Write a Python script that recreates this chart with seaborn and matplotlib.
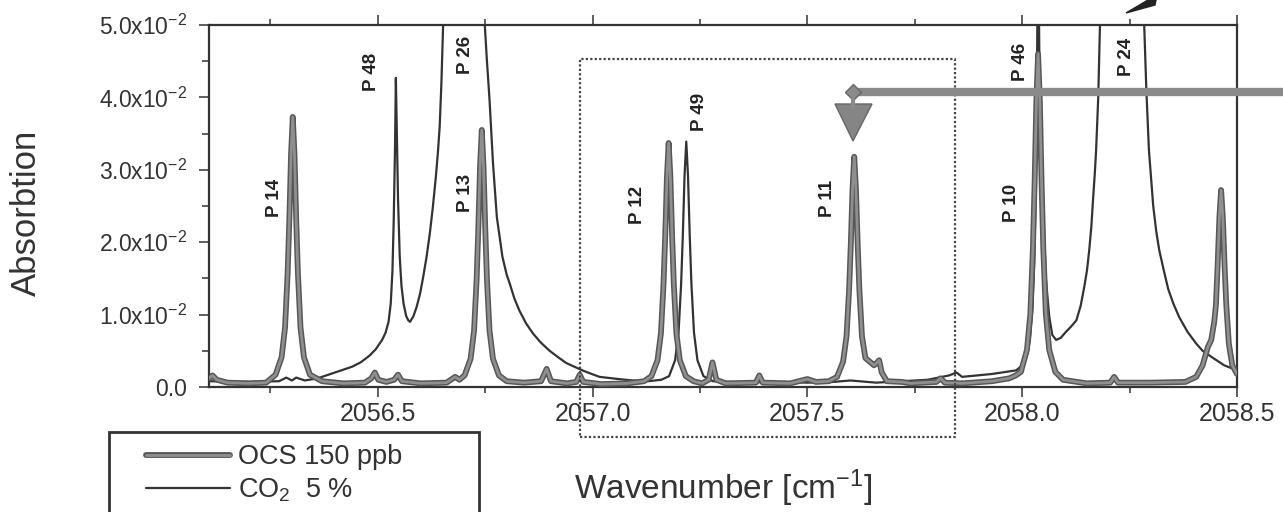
import matplotlib
matplotlib.use("Agg")
import numpy as np
import pandas as pd
import matplotlib.pyplot as plt
import seaborn as sns
import matplotlib.patheffects as pe
from matplotlib.patches import Rectangle, Polygon
from matplotlib.lines import Line2D
from matplotlib.ticker import FixedLocator, MultipleLocator, FixedFormatter

# ---------------- data ----------------
ocs_x = [2056.107, 2056.115, 2056.125, 2056.15, 2056.20, 2056.24,
         2056.262, 2056.276, 2056.284, 2056.290, 2056.294, 2056.298, 2056.302,
         2056.306, 2056.310, 2056.314, 2056.320, 2056.328, 2056.342, 2056.37,
         2056.42, 2056.47, 2056.485, 2056.493, 2056.501, 2056.52, 2056.538, 2056.547, 2056.556,
         2056.60, 2056.66, 2056.680, 2056.690,
         2056.702, 2056.716, 2056.724, 2056.730, 2056.734, 2056.738, 2056.742,
         2056.746, 2056.750, 2056.754, 2056.760, 2056.768, 2056.782, 2056.80,
         2056.84, 2056.88, 2056.893, 2056.903, 2056.94, 2056.962, 2056.970, 2056.978,
         2057.02, 2057.08, 2057.12,
         2057.137, 2057.151, 2057.159, 2057.165, 2057.169, 2057.173, 2057.177,
         2057.181, 2057.185, 2057.189, 2057.195, 2057.203, 2057.217, 2057.235,
         2057.255, 2057.27, 2057.279, 2057.288, 2057.31, 2057.38, 2057.388, 2057.396,
         2057.46, 2057.50, 2057.52, 2057.55,
         2057.569, 2057.583, 2057.591, 2057.597, 2057.601, 2057.605, 2057.609,
         2057.613, 2057.617, 2057.621, 2057.627, 2057.635, 2057.645, 2057.655, 2057.661,
         2057.667, 2057.673, 2057.685, 2057.72, 2057.74, 2057.80, 2057.81, 2057.82,
         2057.86, 2057.93, 2057.97, 2057.985,
         2057.997, 2058.011, 2058.019, 2058.025, 2058.029, 2058.033, 2058.037,
         2058.041, 2058.045, 2058.049, 2058.055, 2058.063, 2058.077, 2058.095,
         2058.15, 2058.205, 2058.214, 2058.223, 2058.30, 2058.38,
         2058.405, 2058.420, 2058.432, 2058.440, 2058.447, 2058.451, 2058.455, 2058.459,
         2058.463, 2058.467, 2058.471, 2058.475, 2058.481, 2058.489, 2058.500]
ocs_y = [0.0012, 0.0016, 0.0010, 0.0006, 0.0005, 0.0006,
         0.0017, 0.0041, 0.0082, 0.0157, 0.0231, 0.0321, 0.0373,
         0.0321, 0.0231, 0.0157, 0.0082, 0.0041, 0.0017, 0.0008,
         0.0005, 0.0006, 0.0012, 0.0020, 0.0010, 0.0007, 0.0010, 0.0017, 0.0008,
         0.0005, 0.0006, 0.0014, 0.0010,
         0.0016, 0.0039, 0.0078, 0.0149, 0.0220, 0.0305, 0.0355,
         0.0305, 0.0220, 0.0149, 0.0078, 0.0039, 0.0016, 0.0008,
         0.0006, 0.0008, 0.0025, 0.0008, 0.0005, 0.0007, 0.0017, 0.0007,
         0.0004, 0.0005, 0.0008,
         0.0015, 0.0037, 0.0074, 0.0142, 0.0209, 0.0290, 0.0337,
         0.0290, 0.0209, 0.0142, 0.0074, 0.0037, 0.0015, 0.0008,
         0.0005, 0.0010, 0.0034, 0.0010, 0.0005, 0.0006, 0.0016, 0.0006,
         0.0005, 0.0011, 0.0007, 0.0008,
         0.0014, 0.0035, 0.0070, 0.0134, 0.0197, 0.0273, 0.0318,
         0.0273, 0.0197, 0.0134, 0.0070, 0.0040, 0.0035, 0.0030, 0.0033,
         0.0037, 0.0020, 0.0008, 0.0007, 0.0005, 0.0007, 0.0012, 0.0006,
         0.0005, 0.0008, 0.0012, 0.0016,
         0.0021, 0.0051, 0.0101, 0.0193, 0.0285, 0.0396, 0.0460,
         0.0396, 0.0285, 0.0193, 0.0101, 0.0051, 0.0021, 0.0010,
         0.0005, 0.0006, 0.0014, 0.0006, 0.0006, 0.0007,
         0.0014, 0.0030, 0.0055, 0.0065, 0.0090, 0.0114, 0.0169, 0.0234,
         0.0272, 0.0234, 0.0169, 0.0114, 0.0060, 0.0030, 0.0018]

co2_x = [2056.107, 2056.20, 2056.27, 2056.287, 2056.30, 2056.31, 2056.33, 2056.36, 2056.40,
         2056.44, 2056.46, 2056.48, 2056.495, 2056.51, 2056.518, 2056.525, 2056.530, 2056.534,
         2056.537, 2056.540, 2056.542, 2056.544, 2056.547, 2056.551, 2056.555, 2056.560,
         2056.566, 2056.571, 2056.575, 2056.583, 2056.590, 2056.598, 2056.605, 2056.613,
         2056.621, 2056.628, 2056.635, 2056.640, 2056.644, 2056.648, 2056.652, 2056.656,
         2056.665, 2056.680, 2056.700, 2056.720, 2056.737, 2056.745, 2056.749, 2056.754,
         2056.760, 2056.768, 2056.777, 2056.790, 2056.800, 2056.807, 2056.818, 2056.83,
         2056.845, 2056.861, 2056.88, 2056.90, 2056.92, 2056.939, 2056.98, 2057.016,
         2057.06, 2057.093, 2057.13, 2057.16,
         2057.178, 2057.192, 2057.200, 2057.206, 2057.210, 2057.214, 2057.218,
         2057.222, 2057.226, 2057.230, 2057.236, 2057.244, 2057.258, 2057.28,
         2057.35, 2057.42, 2057.50, 2057.56, 2057.60, 2057.66, 2057.72, 2057.78, 2057.83,
         2057.847, 2057.86, 2057.93, 2057.986, 2058.000, 2058.010, 2058.018, 2058.024,
         2058.028, 2058.031, 2058.034, 2058.037, 2058.040, 2058.043, 2058.048, 2058.055,
         2058.063, 2058.070, 2058.079, 2058.09, 2058.10, 2058.113, 2058.126, 2058.136,
         2058.145, 2058.151, 2058.156, 2058.161, 2058.165, 2058.169, 2058.172, 2058.177,
         2058.181, 2058.187, 2058.200, 2058.232, 2058.265, 2058.278, 2058.284, 2058.289,
         2058.295, 2058.305, 2058.312, 2058.319, 2058.330, 2058.340, 2058.352, 2058.365,
         2058.385, 2058.405, 2058.420, 2058.442, 2058.470, 2058.500]
co2_y = [0.0008, 0.0007, 0.0008, 0.0013, 0.0009, 0.0013, 0.0009, 0.0012, 0.0020,
         0.0028, 0.0034, 0.0043, 0.0052, 0.0065, 0.0075, 0.0090, 0.0115, 0.0160,
         0.0230, 0.0330, 0.0427, 0.0360, 0.0260, 0.0180, 0.0140, 0.0115,
         0.0098, 0.0092, 0.0090, 0.0098, 0.0110, 0.0128, 0.0150, 0.0178,
         0.0212, 0.0248, 0.0290, 0.0325, 0.0360, 0.0420, 0.0500, 0.0580,
         0.0720, 0.0900, 0.1000, 0.0900, 0.0700, 0.0580, 0.0500, 0.0450,
         0.0397, 0.0310, 0.0235, 0.0180, 0.0155, 0.0143, 0.0122, 0.0105,
         0.0088, 0.0074, 0.0061, 0.0050, 0.0041, 0.0033, 0.0022, 0.0014,
         0.0011, 0.0009, 0.0008, 0.0010,
         0.0015, 0.0037, 0.0075, 0.0142, 0.0210, 0.0292, 0.0339,
         0.0292, 0.0210, 0.0142, 0.0075, 0.0037, 0.0015, 0.0008,
         0.0006, 0.0007, 0.0006, 0.0007, 0.0009, 0.0006, 0.0008, 0.0010, 0.0016,
         0.0020, 0.0014, 0.0018, 0.0023, 0.0030, 0.0042, 0.0065, 0.0110,
         0.0170, 0.0260, 0.0400, 0.0650, 0.0450, 0.0340, 0.0260, 0.0150,
         0.0097, 0.0072, 0.0065, 0.0068, 0.0075, 0.0083, 0.0092, 0.0112,
         0.0140, 0.0162, 0.0189, 0.0222, 0.0260, 0.0295, 0.0327, 0.0400,
         0.0500, 0.0600, 0.0800, 0.0950, 0.0800, 0.0600, 0.0500, 0.0410,
         0.0327, 0.0250, 0.0215, 0.0189, 0.0160, 0.0135, 0.0115, 0.0097,
         0.0076, 0.0060, 0.0050, 0.0041, 0.0030, 0.0023]

series_labels = ["OCS 150 ppb", "CO$_2$  5 %"]

peak_labels = ["P 14", "P 48", "P 26", "P 13", "P 12", "P 49", "P 11", "P 10", "P 46", "P 24"]
peak_label_x = [2056.260, 2056.486, 2056.705, 2056.705, 2057.105, 2057.249, 2057.547,
                2057.974, 2057.995, 2058.242]
peak_label_y = [0.0261, 0.0435, 0.0459, 0.0268, 0.0251, 0.0380, 0.0261, 0.0254, 0.0449, 0.0456]

x_major_ticks = [2056.5, 2057.0, 2057.5, 2058.0, 2058.5]
x_major_labels = ["2056.5", "2057.0", "2057.5", "2058.0", "2058.5"]
y_major_ticks = [0.0, 0.01, 0.02, 0.03, 0.04, 0.05]
y_major_labels = ["0.0", "1.0x10$^{-2}$", "2.0x10$^{-2}$", "3.0x10$^{-2}$",
                  "4.0x10$^{-2}$", "5.0x10$^{-2}$"]
x_limits = [2056.107, 2058.5]
y_limits = [0.0, 0.05]
box_x = [2056.970, 2057.844]
box_y = [-0.0069, 0.0453]

# ---------------- style ----------------
sns.set_style("white")
plt.rcParams["font.family"] = ["Liberation Sans", "DejaVu Sans"]
plt.rcParams["mathtext.fontset"] = "custom"
plt.rcParams["mathtext.rm"] = "Liberation Sans"
plt.rcParams["mathtext.it"] = "Liberation Sans"
plt.rcParams["mathtext.bf"] = "Liberation Sans:bold"
INK = "#333333"

W, H = 1283, 512
fig = plt.figure(figsize=(W / 100, H / 100), dpi=100)
ax = fig.add_axes([209 / W, 1 - 387 / H, 1028 / W, 362 / H])

def fp(x, y):
    return (x / W, 1 - y / H)

ocs_df = pd.DataFrame({"x": ocs_x, "y": ocs_y})
co2_df = pd.DataFrame({"x": co2_x, "y": co2_y})

sns.lineplot(data=co2_df, x="x", y="y", ax=ax, color=INK, lw=1.6,
             estimator=None, sort=False, label=series_labels[1])
sns.lineplot(data=ocs_df, x="x", y="y", ax=ax, color="#8f8f8f", lw=2.0,
             estimator=None, sort=False, label=series_labels[0])
ocs_line = ax.lines[-1]
ocs_line.set_path_effects([pe.Stroke(linewidth=4.2, foreground="#575757"), pe.Normal()])
ocs_line.set_zorder(3)

ax.set_xlim(*x_limits)
ax.set_ylim(*y_limits)

# ticks
ax.xaxis.set_major_locator(FixedLocator(x_major_ticks))
ax.xaxis.set_major_formatter(FixedFormatter(x_major_labels))
ax.xaxis.set_minor_locator(MultipleLocator(0.25))
ax.yaxis.set_major_locator(FixedLocator(y_major_ticks))
ax.yaxis.set_major_formatter(FixedFormatter(y_major_labels))
ax.yaxis.set_minor_locator(MultipleLocator(0.005))
ax.tick_params(axis="x", which="both", direction="out", top=True, bottom=True,
               color=INK, labelcolor=INK)
ax.tick_params(axis="x", which="major", length=7, width=1.1, pad=4, labelsize=18)
ax.tick_params(axis="x", which="minor", length=4, width=1.1)
ax.tick_params(axis="y", which="both", direction="out", left=True, right=False,
               color=INK, labelcolor=INK)
ax.tick_params(axis="y", which="major", length=7, width=1.1, pad=9, labelsize=16.5)
ax.tick_params(axis="y", which="minor", length=5, width=1.1)
for s in ax.spines.values():
    s.set_color(INK)
    s.set_linewidth(1.6)

ax.set_xlabel("Wavenumber [cm$^{-1}$]", fontsize=24, color=INK)
ax.xaxis.set_label_coords(0.5, -0.222)
ax.set_ylabel("Absorbtion", fontsize=25, color=INK)
ax.yaxis.set_label_coords(-0.1615, 0.48)

# peak labels
for lab, px, py in zip(peak_labels, peak_label_x, peak_label_y):
    ax.text(px, py, lab, rotation=90, ha="center", va="center", fontsize=13.5,
            fontweight="bold", color="#222222", zorder=5)

# dotted selection box
ax.plot([box_x[0], box_x[1], box_x[1], box_x[0], box_x[0]],
        [box_y[0], box_y[0], box_y[1], box_y[1], box_y[0]],
        ls=(0, (1, 1)), lw=1.6, color="#444444", clip_on=False, zorder=4)

# legend
handles, labels = ax.get_legend_handles_labels()
order = [labels.index(series_labels[0]), labels.index(series_labels[1])]
leg = ax.legend([handles[i] for i in order], [labels[i] for i in order],
                loc="upper left", bbox_to_anchor=fp(146, 444), bbox_transform=fig.transFigure,
                frameon=False, fontsize=19.5, handlelength=3.1, handletextpad=0.3,
                labelspacing=0.25, borderpad=0, borderaxespad=0)
for t in leg.get_texts():
    t.set_color(INK)
fig.add_artist(Rectangle(fp(109, 530), (479 - 109) / W, (530 - 432) / H,
                         transform=fig.transFigure, fill=False, lw=2.0,
                         edgecolor=INK, clip_on=False))

# grey pointer arrow (annotation)
fig.add_artist(Line2D([1283 / W, 856 / W], [1 - 92 / H, 1 - 92 / H], transform=fig.transFigure,
                      lw=6.0, color="#8a8a8a", solid_capstyle="butt"))
fig.add_artist(Line2D([853 / W], [1 - 92 / H], transform=fig.transFigure, marker="D",
                      markersize=8, color="#8a8a8a", markeredgecolor="#666666"))
fig.add_artist(Line2D([853 / W, 853 / W], [1 - 92 / H, 1 - 106 / H], transform=fig.transFigure,
                      lw=3.0, color="#8a8a8a"))
fig.add_artist(Polygon([fp(835, 104), fp(872, 104), fp(853, 141)], closed=True,
                       transform=fig.transFigure, facecolor="#858585", edgecolor="#666666", lw=1))
# fragment of a black arrow head at the top
fig.add_artist(Polygon([fp(1126, 13), fp(1148, 0), fp(1156, 0), fp(1155, 5)], closed=True,
                       transform=fig.transFigure, facecolor="#222222", edgecolor="#222222"))

fig.savefig("out.png", dpi=100)
